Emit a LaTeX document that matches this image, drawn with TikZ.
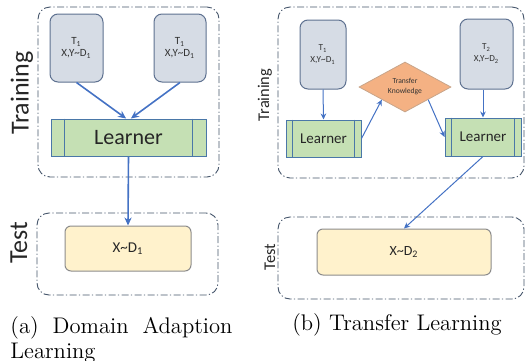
\documentclass[tikz,border=0pt]{standalone}
\usepackage{fontspec}
\newfontfamily\diagfont{Carlito}
\usetikzlibrary{shapes.geometric,arrows.meta}
\definecolor{framecol}{HTML}{44546A}
\definecolor{taskfill}{HTML}{D6DCE5}
\definecolor{taskline}{HTML}{5E7190}
\definecolor{learnfill}{HTML}{C5E0B4}
\definecolor{learnline}{HTML}{4A77A8}
\definecolor{transferfill}{HTML}{F4B183}
\definecolor{transferline}{HTML}{C8A58A}
\definecolor{samplefill}{HTML}{FFF2CC}
\definecolor{sampleline}{HTML}{8C8C8C}
\definecolor{arrowcol}{HTML}{4472C4}
\newcommand{\approxsign}{\textasciitilde}
\begin{document}
\begin{tikzpicture}
[x=0.5pt,y=-0.5pt,
  framedecorate/.style={draw=framecol,line width=0.45pt,rounded corners=6pt,
    dash pattern=on 3.5pt off 1.2pt on 0.6pt off 1.2pt,inner sep=0pt},
  taskdecorate/.style={draw=taskline,fill=taskfill,line width=0.5pt,rounded corners=4pt,
    align=center,inner sep=0pt,text=black!80},
  learnerdecorate/.style={draw=learnline,fill=learnfill,line width=0.5pt,inner sep=0pt,text=black!85},
  transferdecorate/.style={shape=diamond,draw=transferline,fill=transferfill,line width=0.4pt,
    minimum width=46pt,minimum height=25pt,aspect=2,inner sep=0pt,align=center,
    font=\diagfont\fontsize{3.8pt}{5pt}\selectfont,text=black!80},
  sampledecorate/.style={draw=sampleline,fill=samplefill,line width=0.5pt,rounded corners=3pt,
    inner sep=0pt,text=black!85},
  labeldecorate/.style={rotate=90,inner sep=0pt,text=black!85},
  arrowdecorate/.style={-{Stealth[length=4pt,width=3.6pt]},draw=arrowcol,line width=0.8pt},
  thinarrowdecorate/.style={-{Stealth[length=3pt,width=2.8pt]},draw=arrowcol,line width=0.5pt}]
\useasboundingbox (0,0) rectangle (526,360);
%% frames
\foreach \nodename/\x/\y/\wid/\hei in {trainL/128.5/92/90.5/85, testL/127.5/254/90.5/41,
  trainR/401/92.5/123/85.5, testR/401/258/123/41} {
  \node (\nodename) at (\x,\y) [framedecorate,minimum width=\wid pt,minimum height=\hei pt] {};
}
%% frame labels
\foreach \labelname/\x/\y/\fs/\txt in {trainlabL/22/93/13/Training, testlabL/19/243/13/Test,
  trainlabR/265/95/8.2/Training, testlabR/270/257/8.2/Test} {
  \node (\labelname) at (\x,\y) [labeldecorate,font=\diagfont\fontsize{\fs pt}{\fs pt}\selectfont] {\txt};
}
%% tasks
\foreach \nodename/\x/\y/\wid/\hei/\fs/\sub in {taskL1/76.5/48/26.5/34/5.5/1,
  taskL2/180/48/26/34/5.5/1, taskR1/323/54.5/23/34.5/4.6/1, taskR2/486.5/54/26.5/35/4.6/2} {
  \node (\nodename) at (\x,\y) [taskdecorate,minimum width=\wid pt,minimum height=\hei pt,
    font=\diagfont\fontsize{\fs pt}{6pt}\selectfont] {T\textsubscript{\sub}\\X,Y\approxsign D\textsubscript{\sub}};
}
%% learners
\foreach \nodename/\x/\y/\wid/\hei/\fs/\gap in {learnL/128.5/137.5/77.5/18.5/11/7,
  learnR1/323.5/138.5/37.5/18.5/7.5/3.5, learnR2/483/137/38/19/7.5/3.5} {
  \node (\nodename) at (\x,\y) [learnerdecorate,minimum width=\wid pt,minimum height=\hei pt,
    font=\diagfont\fontsize{\fs pt}{\fs pt}\selectfont] {Learner};
  \draw[learnline,line width=0.5pt] ([xshift=\gap pt]\nodename.north west) -- ([xshift=\gap pt]\nodename.south west);
  \draw[learnline,line width=0.5pt] ([xshift=-\gap pt]\nodename.north east) -- ([xshift=-\gap pt]\nodename.south east);
}
\node (transfer) at (405,87) [transferdecorate] {Transfer\\Knowledge};
%% test samples
\node (sampleL) at (128,248.5) [sampledecorate,minimum width=63pt,minimum height=22.5pt,
  font=\diagfont\fontsize{7.5pt}{7.5pt}\selectfont] {X\approxsign D\textsubscript{1}};
\node (sampleR) at (404,252) [sampledecorate,minimum width=87pt,minimum height=23pt,
  font=\diagfont\fontsize{7pt}{7pt}\selectfont] {X\approxsign D\textsubscript{2}};
%% edges
\draw[arrowdecorate] (taskL1.south) -- ([xshift=-1.2pt]learnL.north);
\draw[arrowdecorate] (taskL2.south) -- ([xshift=1.2pt]learnL.north);
\draw[arrowdecorate] (learnL.south) -- (sampleL.north);
\path
\foreach \startnode/\endnode in {taskR1.south/learnR1.north, learnR1.east/transfer.south west,
  transfer.south east/learnR2.west, learnR2.south/sampleR.north} {
  (\startnode) edge[thinarrowdecorate] (\endnode)
};
\draw[thinarrowdecorate] (learnR2.north |- taskR2.south) -- (learnR2.north);
%% captions
\node (capA) at (10,316) [anchor=north west,text width=111pt,align=justify,inner sep=0pt,
  font=\fontsize{11.3pt}{12.5pt}\selectfont] {(a) Domain Adaption Learning};
\node (capB) at (397,325) [inner sep=0pt,font=\fontsize{11.3pt}{12.5pt}\selectfont] {(b) Transfer Learning};
\end{tikzpicture}
\end{document}
